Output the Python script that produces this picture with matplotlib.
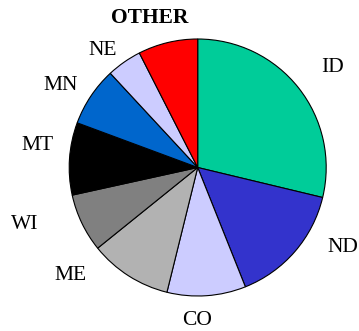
import matplotlib
matplotlib.use('Agg')
import matplotlib.pyplot as plt

# slice data (clockwise from 12 o'clock)
states = ['ID', 'ND', 'CO', 'ME', 'WI', 'MT', 'MN', 'NE', 'OTHER']
shares = [28.75, 15.2, 9.9, 10.35, 7.35, 9.1, 7.45, 4.4, 7.5]
colors = ['#00CC99', '#3333CC', '#CCCCFF', '#B2B2B2', '#808080',
          '#000000', '#0066CC', '#CCCCFF', '#FF0000']

plt.rcParams['font.family'] = ['Liberation Serif', 'DejaVu Serif']

fig = plt.figure(figsize=(3.59, 3.31), dpi=100)
ax = fig.add_axes([0, 0, 1, 1])

ax.pie(shares, colors=colors, startangle=90, counterclock=False,
       radius=1.0, wedgeprops=dict(edgecolor='black', linewidth=0.8))

# label placement around the pie
label_pos = {
    'ID': (1.053, 0.778), 'ND': (1.131, -0.619), 'CO': (-0.002, -1.187),
    'ME': (-0.986, -0.837), 'WI': (-1.344, -0.440), 'MT': (-1.247, 0.175),
    'MN': (-1.064, 0.642), 'NE': (-0.741, 0.907), 'OTHER': (-0.371, 1.167),
}
for s in states:
    x, y = label_pos[s]
    ax.text(x, y, s, ha='center', va='center', fontsize=15.5,
            fontweight='bold' if s == 'OTHER' else 'normal')

ax.set_aspect('auto')
ax.set_xlim(-197.7 / 128.5, (359 - 197.7) / 128.5)
ax.set_ylim(-(331 - 167.5) / 128.5, 167.5 / 128.5)
ax.axis('off')

fig.savefig('out.png', dpi=100)
